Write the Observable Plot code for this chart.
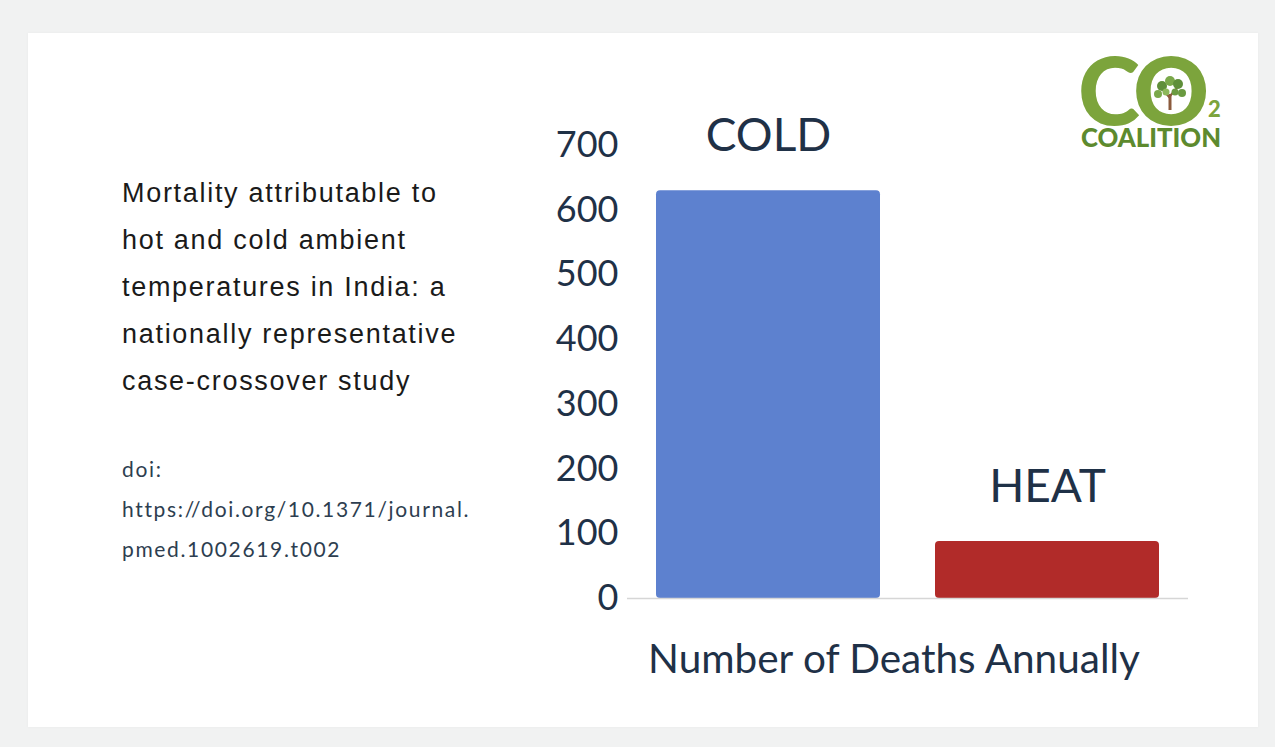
<!DOCTYPE html>
<html>
<head>
<meta charset="utf-8">
<script src="https://cdn.jsdelivr.net/npm/d3@7"></script>
<script src="https://cdn.jsdelivr.net/npm/@observablehq/plot@0.6"></script>
<style>
  html, body { margin: 0; padding: 0; }
  body { width: 1275px; height: 747px; background: #f1f2f2; position: relative; overflow: hidden; }
  #card { position: absolute; left: 28px; top: 33px; width: 1230px; height: 694px; background: #ffffff; box-shadow: 0 0 3px rgba(0,0,0,0.04); }
  #title { position: absolute; left: 122px; top: 170px; font-family: "Liberation Sans", Arial, sans-serif; font-size: 27px; letter-spacing: 1.7px; line-height: 47px; color: #1a1a1a; white-space: nowrap; }
  #doi { position: absolute; left: 122px; top: 449px; font-family: Lato, "Open Sans", sans-serif; font-size: 21px; letter-spacing: 1.65px; line-height: 40px; color: #2d3e50; white-space: nowrap; }
  #chart { position: absolute; left: 520px; top: 90px; }
  #logo { position: absolute; left: 1076px; top: 48px; overflow: visible; }
</style>
</head>
<body>
<div id="card"></div>
<div id="title">Mortality attributable to<br>hot and cold ambient<br>temperatures in India: a<br>nationally representative<br>case-crossover study</div>
<div id="doi">doi:<br>https://doi.org/10.1371/journal.<br>pmed.1002619.t002</div>
<div id="chart"></div>
<svg id="logo" width="160" height="110" viewBox="0 0 160 110">
  <text y="77" font-family="Lato, 'Open Sans', sans-serif" font-weight="900" font-size="94" fill="#7ca43c"><tspan x="2">C</tspan><tspan x="57">O</tspan><tspan x="132" y="69" font-size="22">2</tspan></text>
  <text x="5" y="99" font-family="Lato, 'Open Sans', sans-serif" font-weight="900" font-size="26" fill="#5d8a2e" textLength="140" lengthAdjust="spacingAndGlyphs">COALITION</text>
  <g>
    <line x1="94" y1="62" x2="94" y2="46" stroke="#8b5a3c" stroke-width="3"/>
    <line x1="94" y1="50" x2="87" y2="42" stroke="#8b5a3c" stroke-width="2"/>
    <line x1="94" y1="48" x2="101" y2="40" stroke="#8b5a3c" stroke-width="2"/>
    <circle cx="86" cy="38" r="5" fill="#5f8f3a"/>
    <circle cx="94" cy="33" r="5" fill="#7aa84a"/>
    <circle cx="102" cy="36" r="5" fill="#5f8f3a"/>
    <circle cx="82" cy="46" r="4" fill="#7aa84a"/>
    <circle cx="106" cy="45" r="4" fill="#6a9a40"/>
    <circle cx="90" cy="44" r="3.5" fill="#8cb85a"/>
    <circle cx="99" cy="44" r="3.5" fill="#6a9a40"/>
  </g>
</svg>
<script>
const categories = ["COLD", "HEAT"];
const deaths = [630, 88];
const barColors = ["#5d81cf", "#b12b29"];
const yTicks = [0, 100, 200, 300, 400, 500, 600, 700];
const xLabel = "Number of Deaths Annually";

const data = categories.map((c, i) => ({category: c, value: deaths[i], color: barColors[i]}));
const ink = "#1f3147";

const chart = Plot.plot({
  width: 680,
  height: 620,
  marginLeft: 107,
  marginRight: 12,
  marginTop: 38,
  marginBottom: 112,
  style: {fontFamily: "Lato, 'Open Sans', sans-serif", background: "transparent", color: ink},
  x: {domain: categories, paddingInner: 0.196, paddingOuter: 0.1, axis: null},
  y: {domain: [0, 726], label: null, axis: null},
  marks: [
    Plot.axisY({ticks: yTicks, tickSize: 0, tickPadding: 9, fontSize: 36, fill: ink, label: null, tickFormat: d => String(d)}),
    Plot.barY(data, {x: "category", y: "value", fill: "color", rx: 4}),
    Plot.ruleY([0], {stroke: "#d6d6d6", strokeWidth: 1.5}),
    Plot.ruleX([0], {x: () => 0, y1: 0, y2: 726, stroke: "#e6e6e6", strokeWidth: 1.5, frameAnchor: "left"}),
    Plot.text(data, {x: "category", y: "value", text: "category", dy: -40, lineAnchor: "bottom", fontSize: 46, fill: ink}),
    Plot.text([xLabel], {frameAnchor: "bottom", dy: 74, dx: -14, fontSize: 40.5, fill: ink})
  ]
});
document.getElementById("chart").appendChild(chart);
</script>
</body>
</html>
